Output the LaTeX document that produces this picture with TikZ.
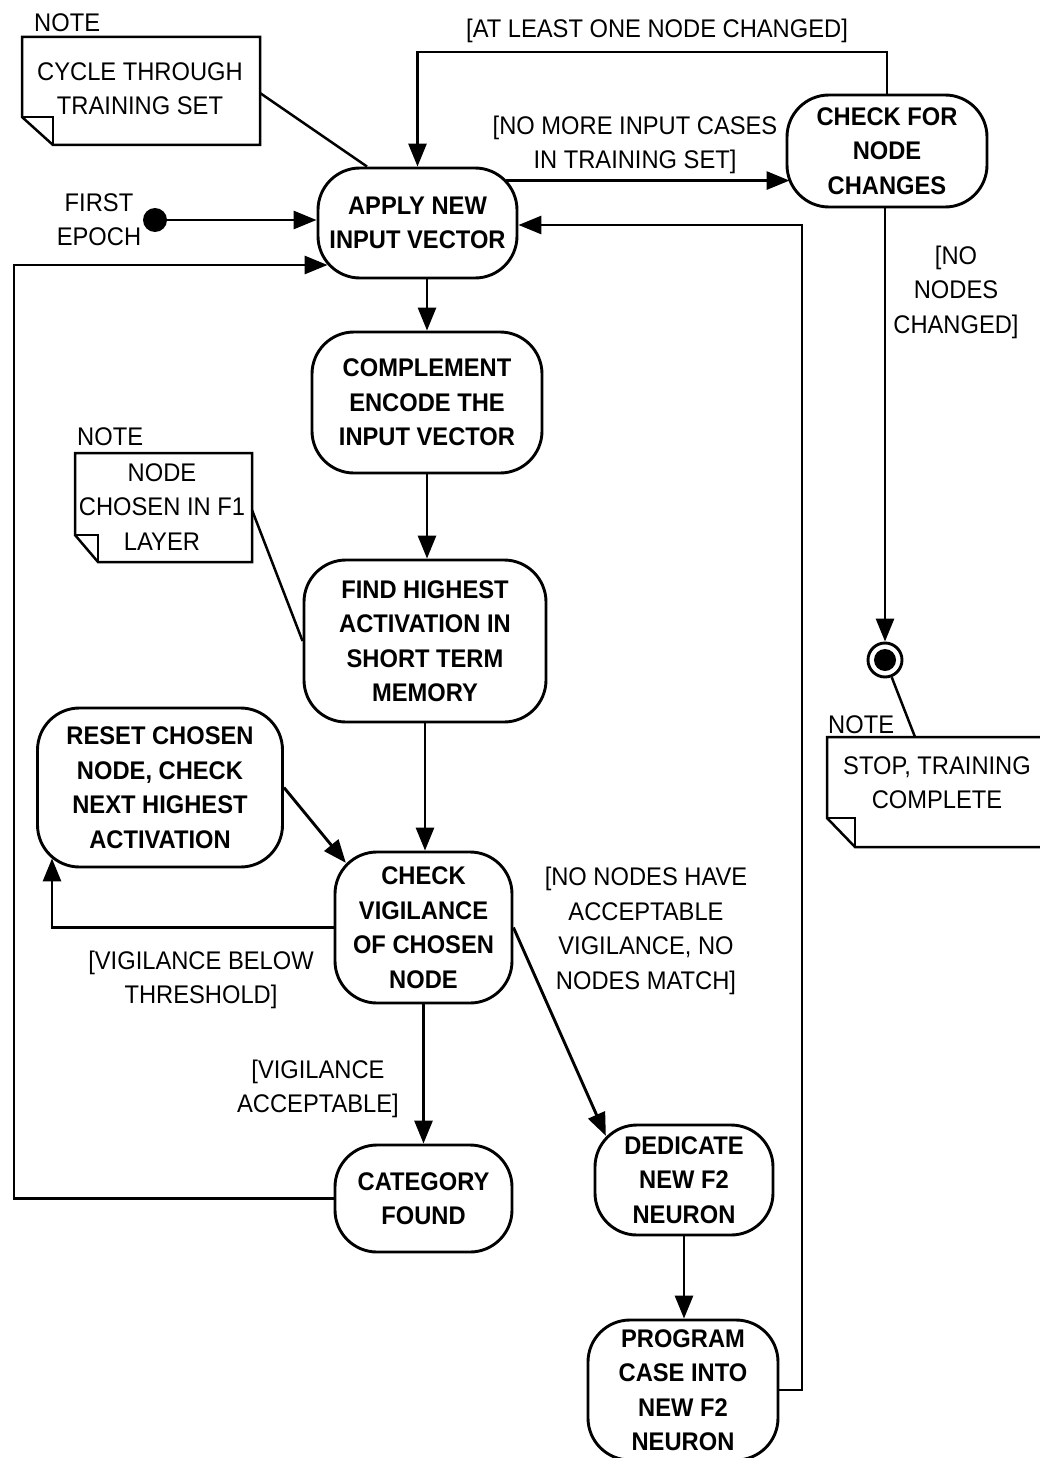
\documentclass[tikz,border=0pt]{standalone}
\usepackage{fontspec}
\setmainfont{Liberation Sans}[FakeStretch=0.93]
\usetikzlibrary{arrows.meta}
\newcommand\myNoteShape[6]{%
  \draw[nline] (#1,#2) -- (#3,#2) -- (#3,#4) -- (#1+#5,#4) -- (#1,#4+#6) -- cycle;
  \draw[nline] (#1,#4+#6) -- (#1+#5,#4+#6) -- (#1+#5,#4);}
\begin{document}
\begin{tikzpicture}[x=1pt,y=1pt,
  font=\fontsize{25.5}{34.5}\selectfont,
  state/.style={draw, line width=2.9pt, rounded corners=42pt, align=center,
    font=\fontsize{25.5}{34.5}\selectfont\bfseries, inner sep=0pt},
  lbl/.style={align=center, inner sep=0pt},
  arr/.style={line width=2.9pt, -{Triangle[length=23pt,width=18pt]}},
  nline/.style={line width=2.5pt}]
\useasboundingbox (0,0) rectangle (1040,-1458);

% states
\node[state, minimum width=199pt, minimum height=110pt] (apply) at (417.5,-223) {APPLY NEW\\INPUT VECTOR};
\node[state, minimum width=200pt, minimum height=112pt] (checkn) at (887,-151) {CHECK FOR\\NODE\\CHANGES};
\node[state, minimum width=230pt, minimum height=141pt] (complement) at (427,-402.5) {COMPLEMENT\\ENCODE THE\\INPUT VECTOR};
\node[state, minimum width=242pt, minimum height=162pt] (find) at (425,-641) {FIND HIGHEST\\ACTIVATION IN\\SHORT TERM\\MEMORY};
\node[state, minimum width=245pt, minimum height=159pt] (reset) at (160,-787.5) {RESET CHOSEN\\NODE, CHECK\\NEXT HIGHEST\\ACTIVATION};
\node[state, minimum width=177pt, minimum height=151pt] (checkv) at (423.5,-927.5) {CHECK\\VIGILANCE\\OF CHOSEN\\NODE};
\node[state, minimum width=177pt, minimum height=107pt] (category) at (423.5,-1198.5) {CATEGORY\\FOUND};
\node[state, minimum width=178pt, minimum height=110pt] (dedicate) at (684,-1180) {DEDICATE\\NEW F2\\NEURON};
\node[state, minimum width=190pt, minimum height=140pt] (program) at (683,-1390) {PROGRAM\\CASE INTO\\NEW F2\\NEURON};

% initial and final
\node[circle, fill, inner sep=0pt, minimum size=24pt] (start) at (155,-220) {};
\node[lbl] (fe) at (99,-219.5) {FIRST\\EPOCH};
\node[circle, draw, line width=2.9pt, inner sep=0pt, minimum size=34pt] (final) at (885,-660) {};
\fill (final.center) circle (11);

% notes
\myNoteShape{22}{-37}{260}{-145}{31}{28}
\node[lbl] (n1) at (140,-88.5) {CYCLE THROUGH\\TRAINING SET};
\node[anchor=base west, inner sep=0pt] (n1l) at (34,-32) {NOTE};
\coordinate (n1a) at (260,-93);

\myNoteShape{75}{-453}{252}{-562}{23}{27}
\node[lbl] (n2) at (162,-507) {NODE\\CHOSEN IN F1\\LAYER};
\node[anchor=base west, inner sep=0pt] (n2l) at (77,-445) {NOTE};
\coordinate (n2a) at (252,-510);

\myNoteShape{827}{-737}{1052}{-847}{28}{29}
\node[lbl] (n3) at (937,-782.5) {STOP, TRAINING\\COMPLETE};
\node[anchor=base west, inner sep=0pt] (n3l) at (828,-733) {NOTE};
\coordinate (n3a) at (915,-737);

% note connectors
\draw[nline] (n1a) -- ([xshift=-50.5pt]apply.north);
\draw[nline] (n2a) -- (find.west);
\draw[nline] (final) -- (n3a);

% connectors
\coordinate (topy) at (0,-52);
\draw[arr] (checkn.north) |- (apply.north |- topy) -- (apply.north);
\node[lbl] (l1) at (657,-31) {[AT LEAST ONE NODE CHANGED]};

\draw[arr] (start) -- (start -| apply.west);

\path ([shift={(-12,-14)}]apply.north east) coordinate (a1);
\path (a1 -| checkn.west) ++(4,0) coordinate (a2);
\draw[arr] (a1) -- (a2);
\node[lbl] (l2) at (635,-145) {[NO MORE INPUT CASES\\IN TRAINING SET]};

\coordinate (rx) at (802,-225);
\draw[arr] (program.east) -| (rx) -- (rx -| apply.east);

\coordinate (lx) at (14,-265);
\path (lx -| apply.west) ++(11,0) coordinate (a3);
\draw[arr] (category.west) -| (lx) -- (a3);

\draw[arr] (complement.north |- apply.south) -- (complement.north);
\draw[arr] (complement.south) -- (complement.south |- find.north);
\draw[arr] (find.south) -- (find.south |- checkv.north);

\path ([shift={(12.3,-12.3)}]checkv.north west) coordinate (cv1);
\draw[arr] (reset.east) -- (cv1);

\coordinate (bx) at (52,-925);
\path (bx |- reset.south) ++(0,10) coordinate (rb);
\draw[arr] (checkv.west) -| (rb);
\node[lbl] (l3) at (201,-980) {[VIGILANCE BELOW\\THRESHOLD]};

\draw[arr] (checkv.south) -- (checkv.south |- category.north);
\node[lbl] (l4) at (318,-1089) {[VIGILANCE\\ACCEPTABLE]};

\path ([shift={(12.3,-12.3)}]dedicate.north west) coordinate (dd1);
\draw[arr] (checkv.east) -- (dd1);
\node[lbl] (l5) at (646,-931) {[NO NODES HAVE\\ACCEPTABLE\\VIGILANCE, NO\\NODES MATCH]};

\draw[arr] (dedicate.south) -- (dedicate.south |- program.north);

\draw[arr] (final.north |- checkn.south) -- (final.north);
\node[lbl] (l6) at (956,-292) {[NO\\NODES\\CHANGED]};
\end{tikzpicture}
\end{document}
